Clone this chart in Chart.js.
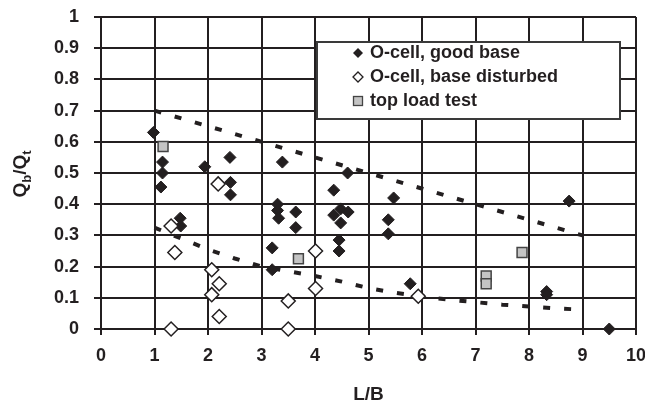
<!DOCTYPE html>
<html lang="en">
<head>
    <meta charset="UTF-8">
    <title>Qb/Qt vs L/B</title>
    <script src="https://cdn.jsdelivr.net/npm/chart.js"></script>
    <style>
        html, body { margin: 0; padding: 0; background: #fff; }
        .chart-box { position: relative; width: 645px; height: 406px; }
    </style>
</head>
<body>
    <div class="chart-box"><canvas id="qb-chart"></canvas></div>

    <script>
        // O-cell, good base
        const goodX = [0.98, 1.15, 1.15, 1.12, 1.94, 2.41, 2.42, 2.42, 1.48, 1.49,
                       3.39, 4.61, 4.35, 5.47, 3.30, 3.30, 3.32, 3.64, 3.64, 4.48,
                       4.35, 4.62, 4.48, 5.37, 5.37, 4.45, 4.45, 3.20, 3.20, 5.78,
                       8.75, 8.33, 8.33, 9.50];
        const goodY = [0.63, 0.535, 0.50, 0.455, 0.52, 0.55, 0.47, 0.43, 0.355, 0.33,
                       0.535, 0.50, 0.445, 0.42, 0.40, 0.38, 0.355, 0.375, 0.325, 0.385,
                       0.365, 0.375, 0.34, 0.35, 0.305, 0.285, 0.25, 0.26, 0.19, 0.145,
                       0.41, 0.12, 0.11, 0];

        // O-cell, base disturbed
        const disturbedX = [2.19, 1.31, 1.38, 2.07, 2.21, 2.07, 2.21, 1.31, 4.01, 4.01, 3.50, 3.50, 5.93];
        const disturbedY = [0.465, 0.33, 0.245, 0.19, 0.145, 0.11, 0.04, 0, 0.25, 0.13, 0.09, 0, 0.105];

        // top load test
        const topLoadX = [1.16, 3.69, 7.87, 7.20, 7.20];
        const topLoadY = [0.585, 0.225, 0.245, 0.17, 0.145];

        // dashed bounds
        const upperX = [1, 9];
        const upperY = [0.70, 0.30];
        const lowerX = [1, 1.5, 2, 2.5, 3, 3.5, 4, 4.5, 5, 5.5, 6, 6.5, 7, 7.5, 8, 8.5, 9];
        const lowerY = [0.325, 0.29, 0.255, 0.226, 0.2, 0.185, 0.17, 0.152, 0.131, 0.116,
                        0.104, 0.094, 0.086, 0.078, 0.072, 0.066, 0.062];

        const legendLabels = ['O-cell, good base', 'O-cell, base disturbed', 'top load test'];

        const toPoints = (xs, ys) => xs.map((x, i) => ({ x: x, y: ys[i] }));

        const INK = '#231f20';
        const FONT = '"Liberation Sans", Arial, sans-serif';
        Chart.defaults.font.family = FONT;
        Chart.defaults.color = INK;

        function diamond(ctx, x, y, r) {
            ctx.beginPath();
            ctx.moveTo(x - r, y);
            ctx.lineTo(x, y - r);
            ctx.lineTo(x + r, y);
            ctx.lineTo(x, y + r);
            ctx.closePath();
        }

        // legend box and the Qb/Qt title with subscripts
        const overlay = {
            id: 'overlay',
            afterDraw(chart) {
                const ctx = chart.ctx;
                ctx.save();

                ctx.fillStyle = '#fff';
                ctx.fillRect(317, 42, 303, 77);
                ctx.lineWidth = 2;
                ctx.strokeStyle = '#3a3a3a';
                ctx.strokeRect(317, 42, 303, 77);

                const rows = [53, 77, 101];
                const mx = 358;

                diamond(ctx, mx, rows[0], 5);
                ctx.fillStyle = INK; ctx.fill();

                diamond(ctx, mx, rows[1], 5);
                ctx.fillStyle = '#fff'; ctx.fill();
                ctx.lineWidth = 1.3; ctx.strokeStyle = INK; ctx.stroke();

                ctx.fillStyle = '#c4c4c4';
                ctx.fillRect(mx - 4.5, rows[2] - 4.5, 9, 9);
                ctx.lineWidth = 1.3; ctx.strokeStyle = '#444';
                ctx.strokeRect(mx - 4.5, rows[2] - 4.5, 9, 9);

                ctx.fillStyle = INK;
                ctx.font = 'bold 18px ' + FONT;
                ctx.textBaseline = 'middle';
                ctx.textAlign = 'left';
                legendLabels.forEach((t, i) => ctx.fillText(t, 370, rows[i]));

                // y title, rotated
                ctx.translate(26, 174);
                ctx.rotate(-Math.PI / 2);
                ctx.textBaseline = 'alphabetic';
                const parts = [['Q', false], ['b', true], ['/Q', false], ['t', true]];
                let w = 0;
                parts.forEach(([s, sub]) => {
                    ctx.font = 'bold ' + (sub ? 13 : 19) + 'px ' + FONT;
                    w += ctx.measureText(s).width;
                });
                let px = -w / 2;
                parts.forEach(([s, sub]) => {
                    ctx.font = 'bold ' + (sub ? 13 : 19) + 'px ' + FONT;
                    ctx.fillText(s, px, sub ? 5 : 0);
                    px += ctx.measureText(s).width;
                });

                ctx.restore();
            }
        };

        new Chart(document.getElementById('qb-chart'), {
            type: 'scatter',
            data: {
                datasets: [
                    {
                        label: 'upper',
                        data: toPoints(upperX, upperY),
                        showLine: true,
                        borderColor: INK,
                        borderWidth: 4,
                        borderDash: [7, 14],
                        pointRadius: 0,
                        order: 10
                    },
                    {
                        label: 'lower',
                        data: toPoints(lowerX, lowerY),
                        showLine: true,
                        borderColor: INK,
                        borderWidth: 4,
                        borderDash: [7, 14],
                        pointRadius: 0,
                        order: 10
                    },
                    {
                        label: legendLabels[0],
                        data: toPoints(goodX, goodY),
                        pointStyle: 'rectRot',
                        pointRadius: 6,
                        backgroundColor: INK,
                        borderColor: INK,
                        borderWidth: 1,
                        clip: false,
                        order: 2
                    },
                    {
                        label: legendLabels[1],
                        data: toPoints(disturbedX, disturbedY),
                        pointStyle: 'rectRot',
                        pointRadius: 7,
                        backgroundColor: '#fff',
                        borderColor: INK,
                        borderWidth: 1.5,
                        clip: false,
                        order: 1
                    },
                    {
                        label: legendLabels[2],
                        data: toPoints(topLoadX, topLoadY),
                        pointStyle: 'rect',
                        pointRadius: 7,
                        backgroundColor: '#c4c4c4',
                        borderColor: '#444',
                        borderWidth: 1.5,
                        clip: false,
                        order: 3
                    }
                ]
            },
            options: {
                responsive: true,
                maintainAspectRatio: false,
                animation: false,
                layout: { padding: { top: 17, right: 9, left: 0, bottom: 0 } },
                plugins: { legend: { display: false }, tooltip: { enabled: false } },
                scales: {
                    x: {
                        type: 'linear',
                        min: 0,
                        max: 10,
                        ticks: {
                            stepSize: 1,
                            padding: 10,
                            font: { size: 18, weight: 'bold' },
                            color: INK
                        },
                        grid: { color: INK, lineWidth: 2, tickLength: 6 },
                        border: { color: INK, width: 2 },
                        title: {
                            display: true,
                            text: 'L/B',
                            font: { size: 19, weight: 'bold' },
                            color: INK,
                            padding: { top: 0, bottom: 0 }
                        },
                        afterFit: s => { s.height = 77; s.paddingLeft = 0; s.paddingRight = 0; }
                    },
                    y: {
                        type: 'linear',
                        min: 0,
                        max: 1,
                        ticks: {
                            stepSize: 0.1,
                            padding: 15,
                            font: { size: 18, weight: 'bold' },
                            color: INK,
                            callback: v => String(Math.round(v * 10) / 10)
                        },
                        grid: { color: INK, lineWidth: 2, tickLength: 7 },
                        border: { color: INK, width: 2 },
                        afterFit: s => { s.width = 101; s.paddingTop = 0; s.paddingBottom = 0; }
                    }
                }
            },
            plugins: [overlay]
        });
    </script>
</body>
</html>
